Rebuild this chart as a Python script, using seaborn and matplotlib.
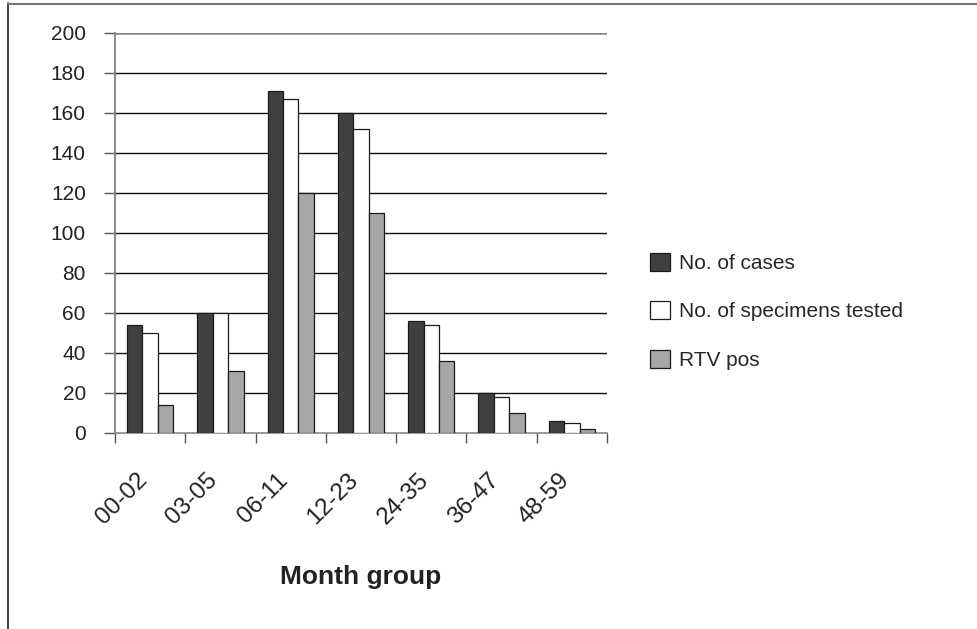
import matplotlib
matplotlib.use("Agg")
import matplotlib.pyplot as plt
import seaborn as sns
import pandas as pd
from matplotlib.lines import Line2D
from matplotlib.transforms import ScaledTranslation

categories = ["00-02", "03-05", "06-11", "12-23", "24-35", "36-47", "48-59"]
cases = [54, 60, 171, 160, 56, 20, 6]
specimens = [50, 60, 167, 152, 54, 18, 5]
rtv_pos = [14, 31, 120, 110, 36, 10, 2]
series_names = ["No. of cases", "No. of specimens tested", "RTV pos"]
y_ticks = [0, 20, 40, 60, 80, 100, 120, 140, 160, 180, 200]

rows = []
for name, vals in zip(series_names, [cases, specimens, rtv_pos]):
    for c, v in zip(categories, vals):
        rows.append({"Month group": c, "value": v, "series": name})
df = pd.DataFrame(rows)

sns.set_theme(style="white")
plt.rcParams["font.family"] = ["Liberation Sans", "DejaVu Sans"]

fig = plt.figure(figsize=(9.77, 6.29), dpi=100)
ax = fig.add_axes([115/977, 1-433/629, (607-115)/977, 400/629])

palette = {"No. of cases": "#404040", "No. of specimens tested": "#ffffff", "RTV pos": "#a7a7a9"}
sns.barplot(data=df, x="Month group", y="value", hue="series", order=categories,
            hue_order=series_names, palette=palette, edgecolor="#1a1a1a",
            linewidth=0.9, width=0.66, saturation=1, ax=ax, legend=True, zorder=3)

ax.set_ylim(0, 200)
ax.set_xlim(-0.5, len(categories) - 0.5)
ax.set_yticks(y_ticks)
ax.set_yticklabels([str(t) for t in y_ticks], fontsize=15, color="#222222")
for t in y_ticks[1:-1]:
    ax.axhline(t, color="#111111", lw=1.0, zorder=1)
ax.axhline(200, color="#888888", lw=1.8, zorder=1)

# Ticks at category boundaries, labels at centers
ax.set_xticks([i - 0.5 for i in range(len(categories) + 1)])
ax.set_xticklabels([])
ax.set_xticks(range(len(categories)), minor=True)
ax.set_xticklabels(categories, minor=True, rotation=45, ha="right", va="top",
                   rotation_mode="anchor", fontsize=17.5, color="#222222")
ax.tick_params(axis="x", which="major", direction="out", length=7, width=1, color="#555555", bottom=True)
ax.tick_params(axis="x", which="minor", length=0, pad=20)
ax.tick_params(axis="y", direction="out", length=8, width=1, color="#555555", left=True, pad=13)
offset = ScaledTranslation(-0.14, -0.08, fig.dpi_scale_trans)
for lab in ax.get_xticklabels(minor=True):
    lab.set_transform(lab.get_transform() + offset)

for side in ["top", "right"]:
    ax.spines[side].set_visible(False)
ax.spines["left"].set_color("#777777")
ax.spines["left"].set_linewidth(1.2)
ax.spines["bottom"].set_color("#888888")
ax.spines["bottom"].set_linewidth(1.2)

ax.set_ylabel("")
ax.set_xlabel("Month group", fontsize=19, fontweight="bold", color="#222222")
ax.xaxis.set_label_coords(0.5, (433 - 577) / 400)
ax.xaxis.label.set_va("center")

handles, labels = ax.get_legend_handles_labels()
ax.legend(handles, labels, loc="upper left", bbox_to_anchor=(650/977, 1-253/629),
          bbox_transform=fig.transFigure, frameon=False, fontsize=15,
          handlelength=0.95, handleheight=0.95, handletextpad=0.45, labelspacing=1.35,
          borderaxespad=0, borderpad=0)

# figure border lines
fig.add_artist(Line2D([8/977, 8/977], [0, 1-3/629], transform=fig.transFigure, color="#222222", lw=1.2))
fig.add_artist(Line2D([8/977, 1], [1-3.5/629, 1-3.5/629], transform=fig.transFigure, color="#777777", lw=1.5))

fig.savefig("out.png", dpi=100)
